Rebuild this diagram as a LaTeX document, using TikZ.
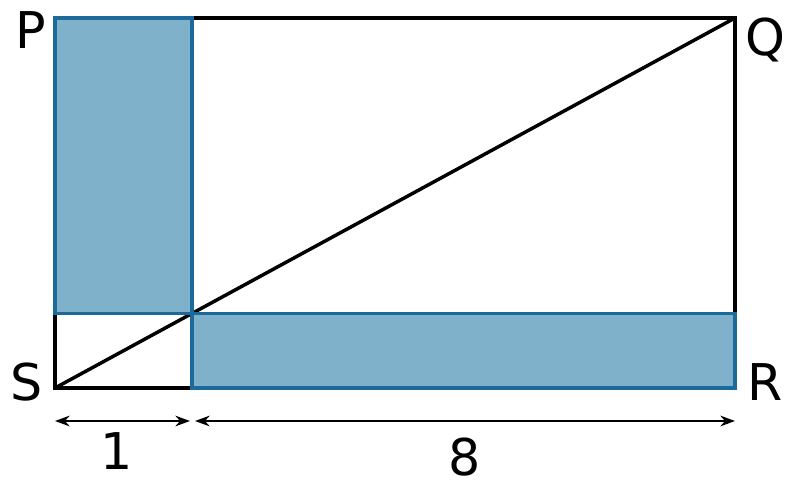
\documentclass[tikz,border=0pt]{standalone}
\usepackage{fontspec}
\setmainfont{DejaVu Sans}
\usetikzlibrary{arrows.meta}
\definecolor{shade}{HTML}{7FB1CB}
\definecolor{edge}{HTML}{1C6A9B}
\tikzset{
  blk/.style={draw=black,line width=2.6pt},
  shaded/.style={fill=shade,draw=edge,line width=2.6pt},
  dim/.style={draw=black,line width=1.6pt,{Stealth[length=11pt,width=8pt]}-{Stealth[length=11pt,width=8pt]}},
  lbl/.style={font=\fontsize{38}{40}\selectfont,inner sep=0pt},
}
\begin{document}
\begin{tikzpicture}[x=0.75pt,y=-0.75pt]
\useasboundingbox (0,0) rectangle (800,489);
\coordinate (S) at (55,388);
\coordinate (P) at (55,18);
\coordinate (Q) at (735,18);
\coordinate (R) at (735,388);
\coordinate (M) at (192,313.5);
\coordinate (Mb) at (192,388);
\coordinate (Mt) at (192,18);
\coordinate (L) at (55,313.5);
\coordinate (Rm) at (735,313.5);
\draw[blk] (S) rectangle (Q);
\draw[blk] (S) -- (Q);
\draw[shaded] (L) rectangle (Mt);
\draw[shaded] (Mb) rectangle (Rm);
\coordinate (A1) at (55,421);
\coordinate (A2) at (190,421);
\coordinate (A3) at (195,421);
\coordinate (A4) at (735,421);
\draw[dim] (A1) -- (A2);
\draw[dim] (A3) -- (A4);
\node[lbl] (lP) at (31,30) {P};
\node[lbl] (lQ) at (765,40) {Q};
\node[lbl] (lS) at (27,382) {S};
\node[lbl] (lR) at (765,382) {R};
\node[lbl] (l1) at (117,451) {1};
\node[lbl] (l8) at (465,457) {8};
\end{tikzpicture}
\end{document}
